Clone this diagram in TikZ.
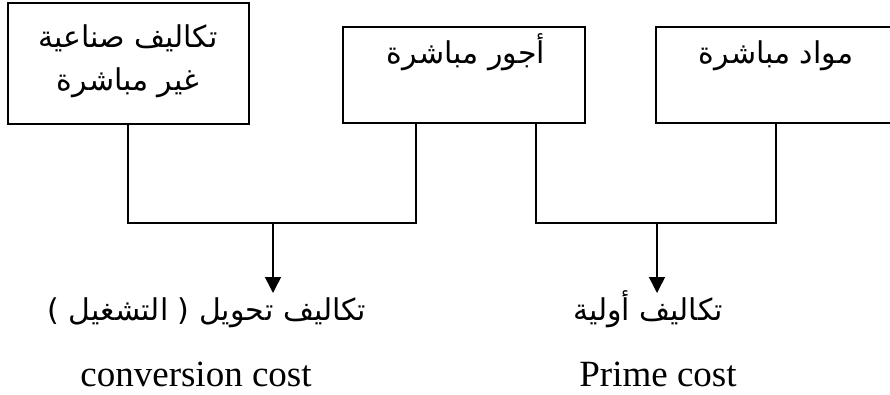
\documentclass[tikz,border=0pt]{standalone}
\usepackage{fontspec}
\setmainfont{Liberation Serif}
\newfontfamily\arabicfont[Script=Arabic]{DejaVu Sans}
\TeXXeTstate=1
\usetikzlibrary{arrows.meta}
\begin{document}
\begin{tikzpicture}[x=1pt,y=-1pt,
  box/.style={draw,line width=2pt,inner sep=0pt},
  conn/.style={line width=1.5pt},
  arr/.style={line width=1.5pt,-{Triangle[width=16pt,length=16pt]}},
  ar/.style={font=\arabicfont\fontsize{30}{36}\selectfont,anchor=base,inner sep=0pt},
  en/.style={font=\fontsize{37}{44}\selectfont,anchor=base,inner sep=0pt}]
\useasboundingbox (0,0) rectangle (890,395);
\clip (0,0) rectangle (890,395);
\node[box,minimum width=241pt,minimum height=121pt] (b1) at (128,63.5) {};
\node[box,minimum width=242pt,minimum height=96pt] (b2) at (464,75) {};
\node[box,minimum width=240pt,minimum height=96pt] (b3) at (776,75) {};
\node[ar] (t1a) at (128,48) {\beginR تكاليف صناعية\endR};
\node[ar] (t1b) at (128,91) {\beginR غير مباشرة\endR};
\node[ar] (t2) at (466,64) {\beginR أجور مباشرة\endR};
\node[ar] (t3) at (776,64) {\beginR مواد مباشرة\endR};
\node[ar] (c1) at (207,320) {\beginR تكاليف تحويل ( التشغيل )\endR};
\node[ar] (p1) at (648,320) {\beginR تكاليف أولية\endR};
\node[en] (c2) at (196,386) {conversion cost};
\node[en] (p2) at (658,386) {Prime cost};
\coordinate (m1) at (273,223);
\coordinate (a1) at (273,293);
\coordinate (j1) at (b1.south |- m1);
\coordinate (j2) at (416,223);
\coordinate (j3) at (536,223);
\coordinate (j4) at (b3.south |- m1);
\coordinate (m2) at (657,223);
\coordinate (a2) at (657,293);
\draw[conn] (b1.south) -- (j1) -- (j2) -- (j2 |- b2.south);
\draw[conn] (j3 |- b2.south) -- (j3) -- (j4) -- (b3.south);
\draw[arr] (m1) -- (a1);
\draw[arr] (m2) -- (a2);
\end{tikzpicture}
\end{document}
